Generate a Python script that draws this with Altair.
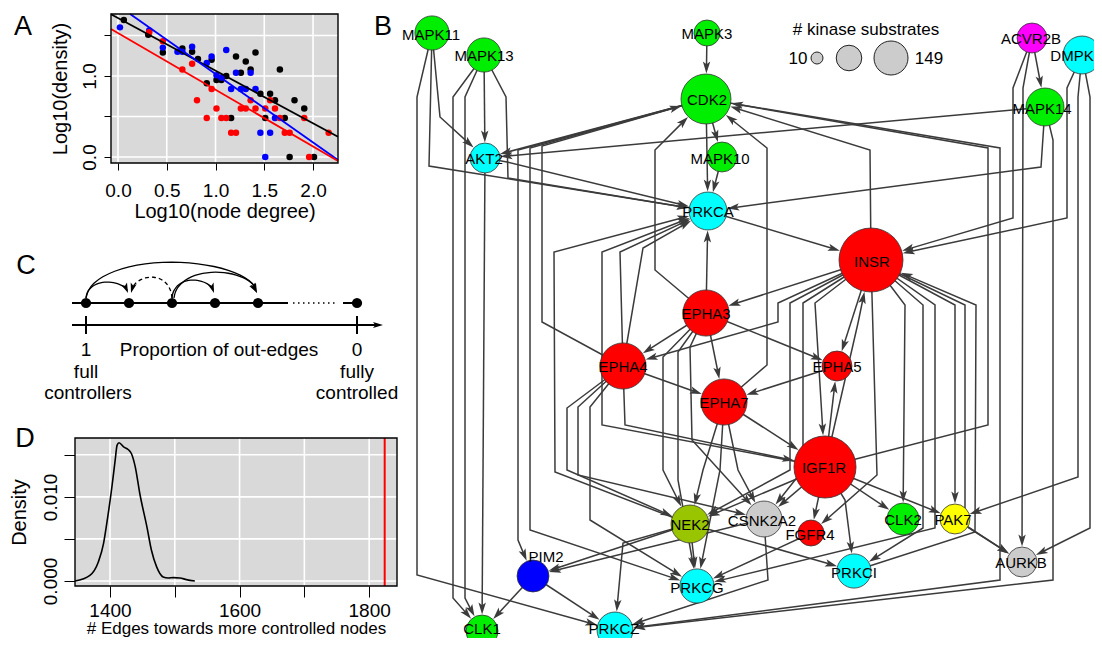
import math
import altair as alt
import pandas as pd

FONT = "Liberation Sans"
EDGE = "#3b3b3b"
W, H = 1086, 630
OX, OY = 8, 8

# ---------------- Panel A: density vs node degree ----------------
a_black_deg = [0.06,0.31,0.46,0.66,0.76,0.82,0.91,0.96,1.01,1.06,1.11,1.16,1.21,1.26,1.31,1.36,1.41,1.46,1.51,1.56,1.61,1.66,1.71,1.76,1.81,1.91,2.01]
a_black_den = [1.69,1.51,1.29,1.34,1.30,1.21,0.91,1.20,0.95,0.95,1.00,0.48,1.24,1.04,1.18,1.08,1.29,0.78,0.48,0.78,0.70,1.08,0.48,0.00,0.70,0.60,0.00]
a_blue_deg = [0.02,0.32,0.46,0.61,0.66,0.76,0.91,0.96,1.01,1.06,1.11,1.16,1.21,1.26,1.31,1.36,1.41,1.46,1.51,1.56,1.61]
a_blue_den = [1.60,1.56,1.35,1.30,1.30,1.36,1.16,1.24,1.01,0.98,1.32,0.84,1.04,0.84,0.84,1.04,0.84,0.30,0.00,0.30,0.48]
a_red_deg = [0.32,0.46,0.66,0.76,0.81,0.91,0.96,1.01,1.06,1.11,1.16,1.21,1.26,1.31,1.36,1.41,1.51,1.56,1.61,1.66,1.71,1.76,1.91,1.96,2.16]
a_red_den = [1.54,1.43,1.08,1.15,0.70,0.48,0.84,0.60,0.48,0.48,0.30,0.30,0.60,0.60,0.70,0.60,0.60,0.70,0.60,0.48,0.30,0.30,0.48,0.00,0.30]
a_fit_colors = ["black", "blue", "red"]
a_fit_deg = [[-0.072, 2.256], [0.124, 2.256], [-0.072, 2.256]]
a_fit_den = [[1.762, 0.249], [1.765, -0.036], [1.580, -0.049]]
a_ticks_x = [0, 0.5, 1, 1.5, 2]
a_ticks_y = [0, 0.5, 1, 1.5]
a_domain_x = [-0.0718, 2.256]
a_domain_y = [-0.074, 1.765]

# ---------------- Panel D: null distribution ----------------
d_edges = [1346,1369,1382,1390,1395,1403,1408,1411,1414,1421,1428,1433,1439,1446,1457,1464,1472,1482,1490,1498,1508,1518,1531]
d_density = [0.0,0.00067,0.00226,0.00444,0.00683,0.0112,0.01437,0.01615,0.01643,0.01595,0.01563,0.01516,0.01357,0.0104,0.00643,0.00365,0.00167,0.00048,0.00036,0.0004,0.00036,0.00016,0.0]
d_observed = 1824
d_ticks_x = [1400, 1500, 1600, 1700, 1800]
d_ticks_y = [0, 0.005, 0.010, 0.015]
d_domain_x = [1346, 1843]
d_domain_y = [-0.0006, 0.0170]

# ---------------- Panel B: kinase network ----------------
node_names = ["MAPK11","MAPK13","MAPK3","CDK2","AKT2","MAPK10","PRKCA","ACVR2B","DMPK","MAPK14",
              "INSR","EPHA3","EPHA4","EPHA5","EPHA7","IGF1R","NEK2","CSNK2A2","FGFR4","CLK2",
              "PAK7","AURKB","PRKCI","PIM2","PRKCG","CLK1","PRKCZ"]
node_x = [432,484,707,706,485,722,708,1032,1082,1045,871,706,623,837,724,825,690,764,811,903,955,1022,854,533,697,482,615]
node_y = [33,55,33,99,158,157,211,38,55,107,260,313,366,366,402,467,524,519,533,519,519,562,571,576,586,631,630]
node_substrates = [30,30,10,84,19,19,41,19,41,41,149,69,69,19,69,139,41,35,10,24,19,19,30,24,30,24,35]
node_group = ["green","green","green","green","cyan","green","cyan","magenta","cyan","green",
              "red","red","red","red","red","red","olive","grey","red","green",
              "yellow","grey","cyan","blue","cyan","green","cyan"]
label_x = [431,484,707,707,484,720,708,1031,1072,1042,872,706,623,837,724,824,690,762,810,903,953,1021,854,546,697,482,614]
label_y = [35,56,34,100,159,159,212,39,56,109,262,314,367,367,403,468,525,521,535,520,520,563,573,557,588,629,629]
group_fill = {"green": "#00ee00", "cyan": "#00ffff", "magenta": "#ff00ff", "red": "#ff0000",
              "olive": "#99c400", "grey": "#cccccc", "yellow": "#ffff00", "blue": "#0000ff"}

edges = [
    ("MAPK11","AKT2",[(440,117)]), ("MAPK11","PRKCA",[(429,166)]),
    ("MAPK11","PRKCZ",[(417,97),(417,575)]), ("MAPK13","AKT2",[]),
    ("MAPK13","CLK1",[(453,97),(453,598)]), ("MAPK13","CLK1",[(465,97),(465,598)]),
    ("MAPK13","PRKCA",[(506,97),(508,178)]), ("AKT2","PRKCA",[(507,162)]),
    ("AKT2","CLK1",[]), ("MAPK3","CDK2",[]), ("CDK2","AKT2",[]), ("MAPK14","AKT2",[]),
    ("CDK2","PIM2",[(518,150),(518,540)]), ("CDK2","PRKCG",[(530,148),(530,530)]),
    ("EPHA4","CDK2",[(542,322),(542,146)]), ("NEK2","PRKCA",[(555,472),(554,252)]),
    ("CDK2","PRKCA",[]), ("CDK2","MAPK10",[]), ("MAPK10","PRKCA",[]),
    ("INSR","CDK2",[(870,150)]), ("IGF1R","CDK2",[(988,425),(988,148)]),
    ("CDK2","PRKCZ",[(1000,148),(1000,580)]), ("MAPK14","PRKCZ",[(1053,140),(1053,580)]),
    ("MAPK14","PRKCA",[(1041,167)]), ("ACVR2B","MAPK14",[]),
    ("ACVR2B","INSR",[(1013,88),(1013,218)]), ("ACVR2B","AURKB",[(1023,88)]),
    ("DMPK","INSR",[(1067,88),(1067,218)]), ("DMPK","PAK7",[(1078,97),(1078,477)]),
    ("DMPK","AURKB",[(1090,97),(1090,528)]), ("PRKCA","INSR",[]),
    ("EPHA3","PRKCA",[]), ("EPHA3","CDK2",[(655,270),(655,150)]),
    ("EPHA3","EPHA4",[]), ("EPHA3","EPHA7",[]), ("EPHA3","EPHA5",[]),
    ("EPHA3","NEK2",[(663,357),(663,470)]), ("EPHA3","PRKCG",[(678,352),(678,480)]),
    ("EPHA3","CSNK2A2",[(690,347),(692,440)]), ("EPHA4","PRKCA",[(620,252)]),
    ("EPHA4","PRKCA",[(643,248)]), ("EPHA4","EPHA7",[]), ("EPHA4","IGF1R",[(625,425)]),
    ("EPHA4","NEK2",[(567,408),(567,470)]), ("EPHA4","CSNK2A2",[(578,407),(578,475)]),
    ("EPHA4","PRKCG",[(590,407),(590,520)]), ("IGF1R","PRKCA",[(602,425),(602,252)]),
    ("EPHA7","CDK2",[(767,365),(767,148)]), ("EPHA7","IGF1R",[]),
    ("EPHA7","NEK2",[(703,470)]), ("EPHA7","PRKCG",[(720,470)]),
    ("EPHA7","CSNK2A2",[(738,470)]), ("EPHA5","EPHA7",[]), ("INSR","EPHA3",[]),
    ("INSR","EPHA4",[(778,303),(778,322)]), ("INSR","EPHA5",[]),
    ("IGF1R","INSR",[(858,323)]), ("IGF1R","EPHA5",[]),
    ("INSR","NEK2",[(790,303),(790,470)]), ("INSR","CSNK2A2",[(803,303),(803,470)]),
    ("INSR","IGF1R",[(815,303)]), ("INSR","FGFR4",[(877,475)]),
    ("INSR","CLK2",[(905,305)]), ("INSR","PRKCI",[(923,305),(923,528)]),
    ("INSR","PRKCG",[(935,305),(935,528)]), ("INSR","PAK7",[(955,305)]),
    ("PRKCI","INSR",[(975,532),(976,305)]), ("INSR","AURKB",[(965,305),(965,525)]),
    ("IGF1R","CSNK2A2",[]), ("IGF1R","FGFR4",[]), ("IGF1R","CLK2",[]),
    ("IGF1R","PAK7",[]), ("IGF1R","PRKCI",[(845,500)]), ("IGF1R","NEK2",[]),
    ("NEK2","PIM2",[]), ("CSNK2A2","PIM2",[]), ("NEK2","PRKCG",[]),
    ("NEK2","PRKCZ",[(623,543)]), ("NEK2","PRKCI",[]), ("CSNK2A2","PRKCZ",[(768,580)]),
    ("FGFR4","PRKCG",[]), ("PIM2","CLK1",[]), ("PIM2","PRKCZ",[]), ("PAK7","AURKB",[]),
]

legend_values = [10, 80, 149]
legend_x = [817, 849, 891]
legend_y = 58

# ---------------- Panel C: schematic ----------------
c_dot_x = [86, 129, 172, 215, 258, 357]
c_row_y = 303
c_axis_y = 325
c_arc_start = [86, 86, 172, 172, 174]
c_arc_end = [128, 257, 131, 214, 257]
c_arc_top = [282, 262, 277, 280, 272]
c_arc_dashed = [False, False, True, False, False]

panel_letters = ["A", "B", "C", "D"]
panel_letter_x = [23, 383, 26, 25]
panel_letter_y = [27, 27, 266, 439]

ARROW = "M0,-1L0.62,1L0,0.55L-0.62,1Z"

A_BOX = dict(l=111, r=338, t=14, b=163)
D_BOX = dict(l=75, r=397, t=438, b=586)

def axes_for(box, domx, domy, xt, yt, ylab_expr, xlab_expr, xtitle, ytitle, tick,
             lpad_x, lpad_y, tpad_x, tpad_y, xtitle_size=20):
    xs = alt.Scale(domain=domx, range=[box["l"] - OX, box["r"] - OX], nice=False, zero=False)
    ys = alt.Scale(domain=domy, range=[box["b"] - OY, box["t"] - OY], nice=False, zero=False)
    common = dict(grid=False, domain=False, tickSize=tick, tickColor="black", tickWidth=1,
                  labelFont=FONT, labelFontSize=19, labelColor="black", labelOverlap=False,
                  labelFlush=False, titleFont=FONT, titleFontWeight="normal",
                  titleColor="black")
    xa = alt.Axis(orient="bottom", offset=(box["b"] - OY) - H, values=xt, labelExpr=xlab_expr,
                  labelPadding=lpad_x, title=xtitle, titlePadding=tpad_x, titleFontSize=xtitle_size, **common)
    ya = alt.Axis(orient="left", offset=-(box["l"] - OX), values=yt, labelExpr=ylab_expr,
                  labelAngle=270, labelAlign="center", labelBaseline="bottom",
                  labelPadding=lpad_y, title=ytitle, titlePadding=tpad_y, titleFontSize=20, **common)
    return xs, ys, xa, ya

def panel_frame(xs, ys, xa, ya, domx, domy, xt, yt):
    X = lambda: alt.X("x:Q", scale=xs, axis=xa)
    Y = lambda: alt.Y("y:Q", scale=ys, axis=ya)
    box = pd.DataFrame({"x": [domx[0]], "x2": [domx[1]], "y": [domy[0]], "y2": [domy[1]]})
    bg = alt.Chart(box).mark_rect(color="#d9d9d9").encode(x=X(), x2="x2:Q", y=Y(), y2="y2:Q")
    vg = alt.Chart(pd.DataFrame({"x": xt, "y": [domy[0]] * len(xt), "y2": [domy[1]] * len(xt)})).mark_rule(
        color="white", strokeWidth=1.6).encode(x=X(), y=Y(), y2="y2:Q")
    hg = alt.Chart(pd.DataFrame({"y": yt, "x": [domx[0]] * len(yt), "x2": [domx[1]] * len(yt)})).mark_rule(
        color="white", strokeWidth=1.6).encode(x=X(), x2="x2:Q", y=Y())
    frame = alt.Chart(box).mark_rect(fillOpacity=0, stroke="black", strokeWidth=1.4).encode(
        x=X(), x2="x2:Q", y=Y(), y2="y2:Q")
    return X, Y, bg, vg, hg, frame

# ================= Panel A =================
axs, ays, axa, aya = axes_for(A_BOX, a_domain_x, a_domain_y, a_ticks_x, a_ticks_y,
                              "datum.value == 0 || datum.value == 1 ? format(datum.value, '.1f') : ''",
                              "format(datum.value, '.1f')",
                              "Log10(node degree)", "Log10(density)", 7, 11, 5, 1, 10)
AX, AY, a_bg, a_vg, a_hg, a_frame = panel_frame(axs, ays, axa, aya, a_domain_x, a_domain_y, a_ticks_x, a_ticks_y)

pts = []
for col, xs_, ys_ in [("black", a_black_deg, a_black_den), ("blue", a_blue_deg, a_blue_den), ("red", a_red_deg, a_red_den)]:
    for xv, yv in zip(xs_, ys_):
        pts.append({"x": xv, "y": yv, "col": col})
a_pts = alt.Chart(pd.DataFrame(pts)).mark_circle(size=42, opacity=1).encode(
    x=AX(), y=AY(), color=alt.Color("col:N", scale=None))
fits = []
for i, col in enumerate(a_fit_colors):
    for j in range(2):
        fits.append({"x": a_fit_deg[i][j], "y": a_fit_den[i][j], "col": col})
a_fit = alt.Chart(pd.DataFrame(fits)).mark_line(strokeWidth=1.8).encode(
    x=AX(), y=AY(), color=alt.Color("col:N", scale=None), detail="col:N")
panelA = alt.layer(a_bg, a_vg, a_hg, a_pts, a_fit, a_frame)

# ================= Panel D =================
dxs, dys, dxa, dya = axes_for(D_BOX, d_domain_x, d_domain_y, d_ticks_x, d_ticks_y,
                              "datum.value == 0 || datum.value == 0.01 ? format(datum.value, '.3f') : ''",
                              "datum.value == 1400 || datum.value == 1600 || datum.value == 1800 ? format(datum.value, 'd') : ''",
                              "# Edges towards more controlled nodes", "Density", 11, 4, 4, 0.5, 12,
                              xtitle_size=17)
DX, DY, d_bg, d_vg, d_hg, d_frame = panel_frame(dxs, dys, dxa, dya, d_domain_x, d_domain_y, d_ticks_x, d_ticks_y)
d_curve = alt.Chart(pd.DataFrame({"x": d_edges, "y": d_density})).mark_line(
    color="black", strokeWidth=1.6, interpolate="monotone").encode(x=DX(), y=DY())
d_obs = alt.Chart(pd.DataFrame({"x": [d_observed], "y": [d_domain_y[0]], "y2": [d_domain_y[1]]})).mark_rule(
    color="red", strokeWidth=2).encode(x=DX(), y=DY(), y2="y2:Q")
panelD = alt.layer(d_bg, d_vg, d_hg, d_curve, d_obs, d_frame)

# ================= pixel-frame layers (B, C, letters) =================
PXS = alt.Scale(domain=[OX, OX + W], range=[0, W], nice=False, zero=False)
PYS = alt.Scale(domain=[OY, OY + H], range=[0, H], nice=False, zero=False)
PX = lambda f="x": alt.X(f + ":Q", scale=PXS, axis=None)
PY = lambda f="y": alt.Y(f + ":Q", scale=PYS, axis=None)

def radius_of(s):
    area = 676 + (s - 10) / 139 * 3420
    return math.sqrt(area) / 2 + 0.5

pos = {n: (x, y, radius_of(s)) for n, x, y, s in zip(node_names, node_x, node_y, node_substrates)}
ARROW_LEN = 12
line_rows, arrow_rows = [], []
for k, (s, t, via) in enumerate(edges):
    sx, sy, _ = pos[s]
    tx, ty, tr = pos[t]
    pts_ = [(sx, sy)] + list(via)
    px_, py_ = pts_[-1]
    dx, dy = tx - px_, ty - py_
    L = math.hypot(dx, dy)
    ux, uy = dx / L, dy / L
    bx, by = tx - tr * ux, ty - tr * uy
    pts_.append((bx - 4 * ux, by - 4 * uy))
    for q, (xx, yy) in enumerate(pts_):
        line_rows.append({"x": xx, "y": yy, "eid": k, "seq": q})
    ang = (math.degrees(math.atan2(ux, -uy)) + 360) % 360
    arrow_rows.append({"x": bx - ARROW_LEN / 2 * ux, "y": by - ARROW_LEN / 2 * uy, "ang": ang})

b_edges = alt.Chart(pd.DataFrame(line_rows)).mark_line(color=EDGE, strokeWidth=1.5).encode(
    x=PX(), y=PY(), detail="eid:N", order="seq:Q")
b_arrows = alt.Chart(pd.DataFrame(arrow_rows)).mark_point(
    shape=ARROW, filled=True, color=EDGE, opacity=1, size=ARROW_LEN ** 2, strokeWidth=0).encode(
    x=PX(), y=PY(), angle=alt.Angle("ang:Q", scale=None))
nodes_df = pd.DataFrame({"x": node_x, "y": node_y, "subs": node_substrates,
                         "fill": [group_fill[g] for g in node_group], "name": node_names,
                         "lx": label_x, "ly": label_y})
b_nodes = alt.Chart(nodes_df).mark_circle(opacity=1, stroke="#333333", strokeWidth=0.8).encode(
    x=PX(), y=PY(), fill=alt.Fill("fill:N", scale=None),
    size=alt.Size("subs:Q", scale=alt.Scale(domain=[10, 149], range=[676, 4096]), legend=None))
b_labels = alt.Chart(nodes_df).mark_text(font=FONT, fontSize=15, color="black", baseline="middle").encode(
    x=PX("lx"), y=PY("ly"), text="name:N")

leg_text = pd.DataFrame({"x": [866, 798, 929], "y": [30, 59, 59], "t": ["# kinase substrates", "10", "149"]})
b_legtext = alt.Chart(leg_text).mark_text(font=FONT, fontSize=17, color="black", baseline="middle").encode(
    x=PX(), y=PY(), text="t:N")

# ----- panel C -----
c_lines = pd.DataFrame([
    {"x": 72, "y": c_row_y, "g": "row1", "seq": 0}, {"x": 288, "y": c_row_y, "g": "row1", "seq": 1},
    {"x": 343, "y": c_row_y, "g": "row2", "seq": 0}, {"x": 362, "y": c_row_y, "g": "row2", "seq": 1},
    {"x": 72, "y": c_axis_y, "g": "axis", "seq": 0}, {"x": 378, "y": c_axis_y, "g": "axis", "seq": 1},
    {"x": c_dot_x[0], "y": c_axis_y - 9, "g": "t1", "seq": 0}, {"x": c_dot_x[0], "y": c_axis_y + 9, "g": "t1", "seq": 1},
    {"x": c_dot_x[-1], "y": c_axis_y - 9, "g": "t2", "seq": 0}, {"x": c_dot_x[-1], "y": c_axis_y + 9, "g": "t2", "seq": 1},
])
c_solid = alt.Chart(c_lines).mark_line(color="black", strokeWidth=2).encode(
    x=PX(), y=PY(), detail="g:N", order="seq:Q")
c_dotted = alt.Chart(pd.DataFrame({"x": [293, 338], "y": [c_row_y, c_row_y]})).mark_line(
    color="black", strokeWidth=1.6, strokeDash=[1.5, 3.5]).encode(x=PX(), y=PY())
c_dots = alt.Chart(pd.DataFrame({"x": c_dot_x, "y": [c_row_y] * len(c_dot_x)})).mark_circle(
    size=105, color="black", opacity=1).encode(x=PX(), y=PY())

arc_rows, arc_arrows = [], []
steps = list(range(0, 181, 12))
for k, (x0, x1, top, dashed) in enumerate(zip(c_arc_start, c_arc_end, c_arc_top, c_arc_dashed)):
    y0, y1 = c_row_y - 5, c_row_y - 10
    ptsc = []
    for d in steps:
        t = math.radians(d)
        f = (1 - math.cos(t)) / 2
        base = y0 + (y1 - y0) * f
        ptsc.append((x0 + (x1 - x0) * f, base - (base - top) * math.sin(t)))
    ex, ey = ptsc[-1]
    px_, py_ = ptsc[-3]
    L = math.hypot(ex - px_, ey - py_)
    ux, uy = (ex - px_) / L, (ey - py_) / L
    ptsc[-1] = (ex - 5 * ux, ey - 5 * uy)
    for q, (xx, yy) in enumerate(ptsc):
        arc_rows.append({"x": xx, "y": yy, "arc": k, "seq": q, "dash": "d" if dashed else "s"})
    arc_arrows.append({"x": ex - 5 * ux, "y": ey - 5 * uy,
                       "ang": (math.degrees(math.atan2(ux, -uy)) + 360) % 360})
arc_df = pd.DataFrame(arc_rows)
c_arcs = alt.Chart(arc_df[arc_df.dash == "s"]).mark_line(color="black", strokeWidth=1.3, interpolate="basis").encode(
    x=PX(), y=PY(), detail="arc:N", order="seq:Q")
c_arcs_d = alt.Chart(arc_df[arc_df.dash == "d"]).mark_line(color="black", strokeWidth=1.3, strokeDash=[4, 3],
                                                           interpolate="basis").encode(
    x=PX(), y=PY(), detail="arc:N", order="seq:Q")
arc_arrows.append({"x": 378, "y": c_axis_y, "ang": 90})
c_arrows = alt.Chart(pd.DataFrame(arc_arrows)).mark_point(
    shape=ARROW, filled=True, color="black", opacity=1, size=100, strokeWidth=0).encode(
    x=PX(), y=PY(), angle=alt.Angle("ang:Q", scale=None))
c_text = alt.Chart(pd.DataFrame({
    "x": [c_dot_x[0], 219, c_dot_x[-1], c_dot_x[0], 88, c_dot_x[-1], c_dot_x[-1]],
    "y": [350, 350, 350, 372, 393, 372, 393],
    "t": ["1", "Proportion of out-edges", "0", "full", "controllers", "fully", "controlled"]})).mark_text(
    font=FONT, fontSize=19, color="black", baseline="middle").encode(x=PX(), y=PY(), text="t:N")

letters = alt.Chart(pd.DataFrame({"x": panel_letter_x, "y": panel_letter_y, "t": panel_letters})).mark_text(
    font=FONT, fontSize=27, color="black", baseline="middle").encode(x=PX(), y=PY(), text="t:N")

pixel_layer = alt.layer(b_edges, b_arrows, b_nodes, b_labels, b_legtext,
                        c_solid, c_dotted, c_dots, c_arcs, c_arcs_d, c_arrows, c_text, letters)

legend_layer = alt.Chart(pd.DataFrame({"x": legend_x, "y": [legend_y] * 3, "v": legend_values})).mark_circle(
    color="#cccccc", opacity=1, stroke="#222222", strokeWidth=1).encode(
    x=PX(), y=PY(),
    size=alt.Size("v:Q", scale=alt.Scale(domain=[10, 149], range=[144, 1156]), legend=None))

chart = alt.layer(panelA, panelD, pixel_layer, legend_layer).resolve_scale(
    x="independent", y="independent", size="independent").properties(
    width=W, height=H, autosize=alt.AutoSizeParams(type="none"), padding=0,
    background="white").configure_view(stroke=None)

chart.save("out.html", embed_options={"renderer": "svg", "actions": False})
